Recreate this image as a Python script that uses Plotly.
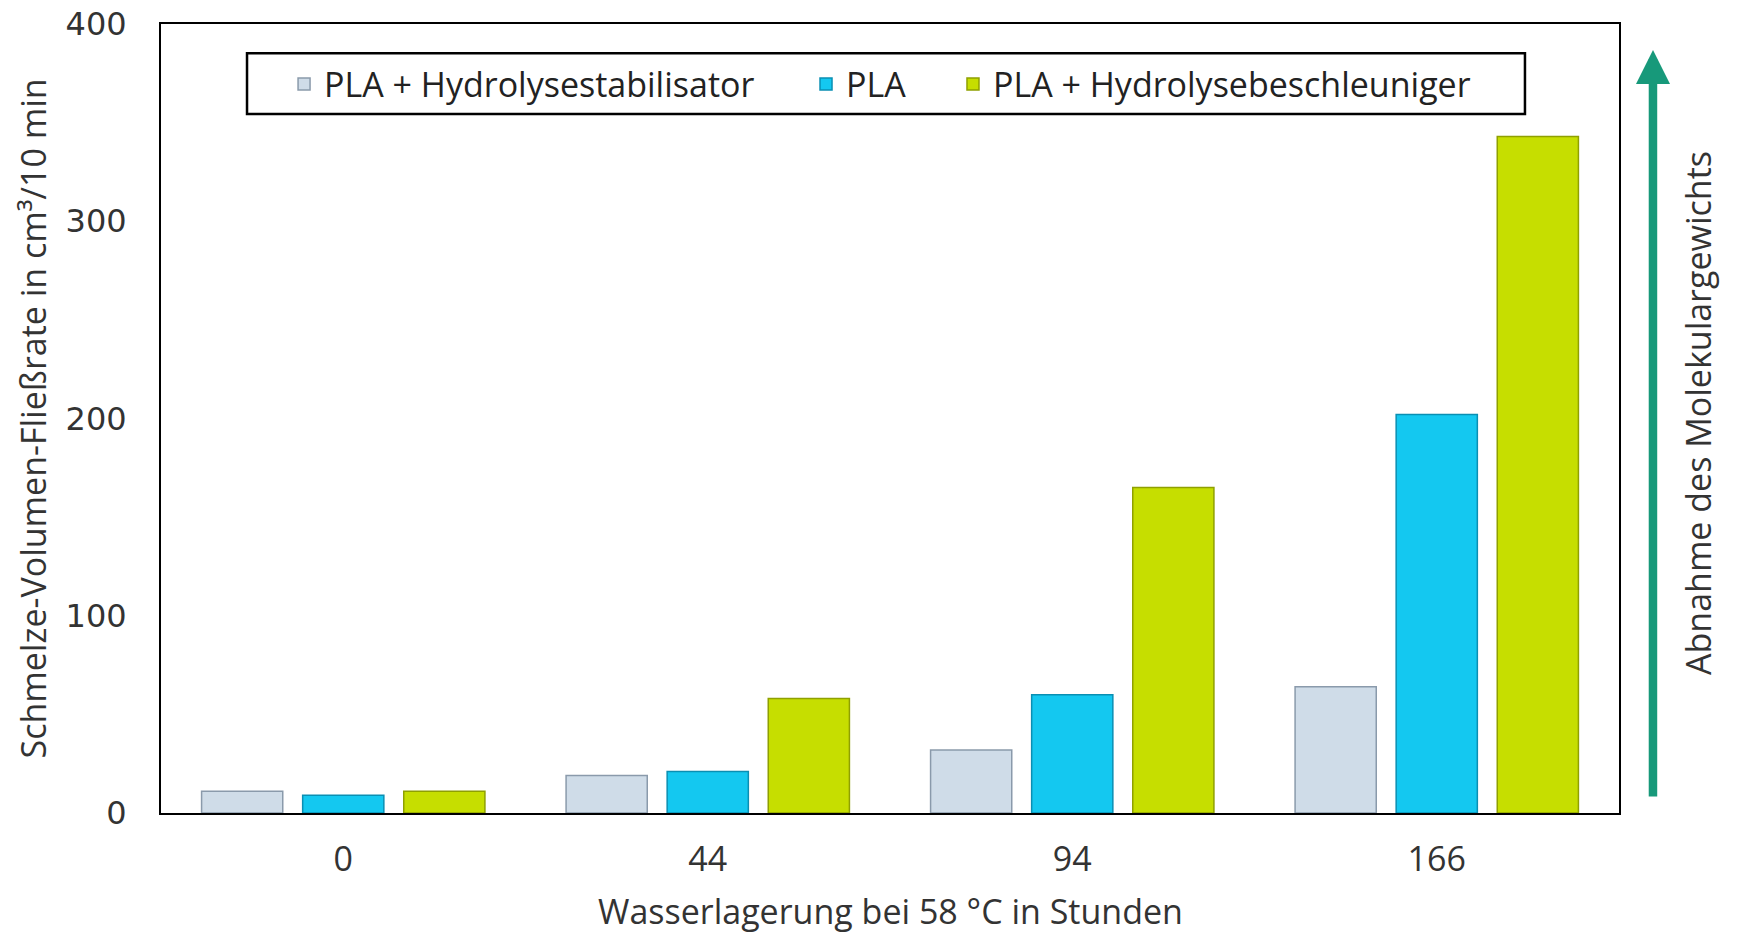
import plotly.graph_objects as go

categories = ["0", "44", "94", "166"]
stabilisator = [11, 19, 32, 64]
pla = [9, 21, 60, 202]
beschleuniger = [11, 58, 165, 343]

series_names = ["PLA + Hydrolysestabilisator", "PLA", "PLA + Hydrolysebeschleuniger"]
fill_colors = ["#cfdce8", "#14c8f0", "#c6de00"]
edge_colors = ["#8a9aab", "#0a8fb3", "#8fa000"]
legend_ids = ["legend", "legend2", "legend3"]
legend_x = [0.0844, 0.4424, 0.5432]

fig = go.Figure()
for name, vals, fc, ec, lid in zip(series_names, [stabilisator, pla, beschleuniger],
                                   fill_colors, edge_colors, legend_ids):
    fig.add_trace(go.Bar(x=categories, y=vals, name=name, legend=lid,
                         marker=dict(color=fc, line=dict(color=ec, width=1.5))))

txt = "#333333"
FS = 34
leg_common = dict(orientation="h", y=0.9233, xanchor="left", yanchor="middle",
                  borderwidth=0, bgcolor="rgba(0,0,0,0)",
                  font=dict(family="Open Sans", size=FS, color="#222222"),
                  itemwidth=30)
layout_legends = {}
for lid, lx in zip(legend_ids, legend_x):
    d = dict(leg_common)
    d["x"] = lx
    layout_legends[lid] = d

fig.update_layout(
    width=1734, height=926,
    margin=dict(l=153, r=123, t=16, b=121),
    paper_bgcolor="white", plot_bgcolor="white",
    barmode="group", bargap=0.168, bargroupgap=0.197,
    font=dict(family="Open Sans", color=txt, size=FS),
    showlegend=True,
    xaxis=dict(showline=True, linecolor="black", linewidth=2, mirror=True,
               showgrid=False, ticks="", ticklabelstandoff=15, automargin=False,
               ticklabeloverflow="allow",
               tickfont=dict(family="Open Sans", size=FS, color=txt)),
    yaxis=dict(range=[0, 400], dtick=100, showline=True, linecolor="black", linewidth=2,
               mirror=True, showgrid=False, zeroline=False, ticks="",
               ticklabelstandoff=26, automargin=False, ticklabeloverflow="allow",
               tickfont=dict(family="DejaVu Sans", size=32, color=txt)),
    **layout_legends,
)

# legend frame
fig.add_shape(type="rect", xref="paper", yref="paper", x0=0.059, x1=0.9355, y0=0.886, y1=0.963,
              line=dict(color="black", width=2.5), fillcolor="white", layer="below")

fig.add_annotation(xref="paper", yref="paper", x=0.5, y=-0.124, showarrow=False,
                   xanchor="center", yanchor="middle",
                   text="Wasserlagerung bei 58 °C in Stunden",
                   font=dict(family="Open Sans", size=FS, color=txt))
fig.add_annotation(xref="paper", yref="paper", x=-0.0878, y=0.5, showarrow=False,
                   xanchor="center", yanchor="middle",
                   textangle=-90, text="Schmelze-Volumen-Fließrate in cm³/10 min",
                   font=dict(family="Open Sans", size=FS, color=txt))
fig.add_annotation(xref="paper", yref="paper", x=1.0233, y=0.967,
                   axref="pixel", ayref="pixel", ax=0, ay=748,
                   showarrow=True, arrowhead=2, arrowsize=0.8, arrowwidth=8.5,
                   arrowcolor="#17997a", text="")
fig.add_annotation(xref="paper", yref="paper", x=1.0542, y=0.507, showarrow=False,
                   xanchor="center", yanchor="middle",
                   textangle=-90, text="Abnahme des Molekulargewichts",
                   font=dict(family="Open Sans", size=FS, color=txt))

fig.write_html("out.html")
